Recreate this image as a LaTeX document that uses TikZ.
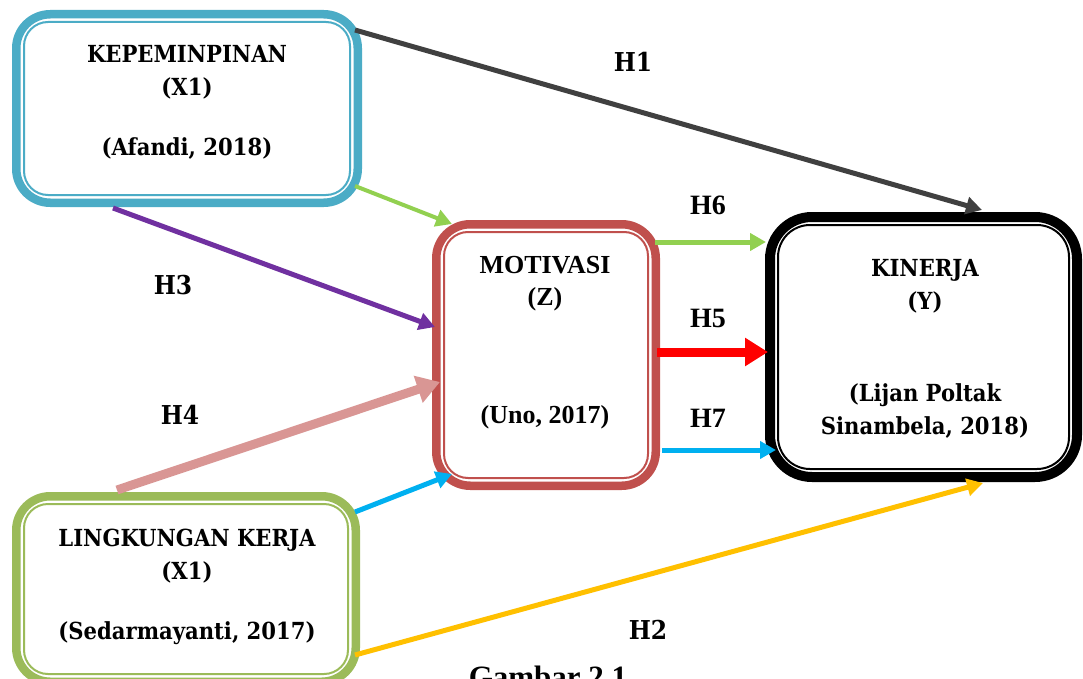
\documentclass[tikz,border=0pt]{standalone}
\usepackage{fontspec}
\setmainfont{Liberation Serif}
\newfontfamily\camb{DejaVu Serif Condensed}
\usetikzlibrary{arrows.meta,calc}

\definecolor{kblue}{HTML}{4BACC6}
\definecolor{mred}{HTML}{C0504D}
\definecolor{lgreen}{HTML}{9BBB59}
\definecolor{agray}{HTML}{404040}
\definecolor{agreen}{HTML}{92D050}
\definecolor{apurple}{HTML}{7030A0}
\definecolor{apink}{HTML}{D99694}
\definecolor{ablue}{HTML}{00B0F0}
\definecolor{ayellow}{HTML}{FFC000}
\definecolor{ared}{HTML}{FF0000}

\begin{document}
\begin{tikzpicture}[x=1pt,y=-1pt,
  varbox/.style={draw=#1, line width=8.5pt, rounded corners=34pt, inner sep=0pt, fill=white},
  innerline/.style={draw=#1, line width=2pt, rounded corners=24pt},
  camtext/.style={align=center, inner sep=0pt, font=\camb\bfseries\fontsize{23.5}{33}\selectfont},
  timtext/.style={align=center, inner sep=0pt, font=\bfseries\fontsize{26}{32}\selectfont},
  hcam/.style={inner sep=0pt, font=\camb\bfseries\fontsize{26}{30}\selectfont},
  htim/.style={inner sep=0pt, font=\bfseries\fontsize{28}{32}\selectfont},
  thinarrow/.style={draw=#1, line width=5pt, -{Triangle[length=16pt,width=17pt]}},
  thickarrow/.style={draw=#1, line width=9pt, -{Triangle[length=23pt,width=27pt]}}
]
\clip (0,0) rectangle (1083,679);
\fill[white] (0,0) rectangle (1083,679);

% variable boxes
\node[varbox=kblue, minimum width=341.5pt, minimum height=188.5pt] (K) at (187,108.5) {};
\node[varbox=mred, minimum width=219.5pt, minimum height=261.5pt] (M) at (546,355) {};
\node[varbox=black, line width=10pt, rounded corners=42pt, minimum width=307pt, minimum height=260pt] (Y) at (923.5,347) {};
\node[varbox=lgreen, minimum width=339.5pt, minimum height=185.5pt] (L) at (186,589) {};

% inner lines of the double borders
\draw[innerline=kblue] ([shift={(12,12)}]K.north west) rectangle ([shift={(-12,-12)}]K.south east);
\draw[innerline=mred] ([shift={(12,12)}]M.north west) rectangle ([shift={(-12,-12)}]M.south east);
\draw[innerline=black, rounded corners=32pt] ([shift={(13,13)}]Y.north west) rectangle ([shift={(-13,-13)}]Y.south east);
\draw[innerline=lgreen] ([shift={(12,12)}]L.north west) rectangle ([shift={(-12,-12)}]L.south east);

% box texts
\node[camtext] (Kt) at ([shift={(0,-6)}]K.center) {KEPEMINPINAN\\(X1)\\[27pt](Afandi, 2018)};
\node[timtext] (Mt) at ([shift={(-1,-12)}]M.center) {MOTIVASI\\(Z)\\[86pt](Uno, 2017)};
\node[camtext] (Yt) at ([shift={(1.5,2)}]Y.center) {KINERJA\\(Y)\\[59pt](Lijan Poltak\\Sinambela, 2018)};
\node[camtext] (Lt) at ([shift={(1,-2.5)}]L.center) {LINGKUNGAN KERJA\\(X1)\\[27pt](Sedarmayanti, 2017)};

% hypothesis paths
\draw[thinarrow=agray] ([shift={(-7,20)}]K.north east) -- ([shift={(58.5,-2)}]Y.north);
\draw[thinarrow=agreen, line width=4pt] ([shift={(-7,-21)}]K.south east) -- ([shift={(20,4)}]M.north west);
\draw[thinarrow=apurple] ([shift={(-74,1)}]K.south) -- ([shift={(3,-28)}]M.west);
\draw[thickarrow=apink] ([shift={(-69,-2)}]L.north) -- ([shift={(8,27)}]M.west);
\draw[thinarrow=ablue] ([shift={(-5,20)}]L.north east) -- ([shift={(20,-16)}]M.south west);
\draw[thinarrow=ayellow] ([shift={(-5,66)}]L.east) -- ([shift={(59.5,1)}]Y.south);
\draw[thinarrow=agreen] ([shift={(-5,-113)}]M.east) -- ([shift={(1,-105)}]Y.west);
\draw[thickarrow=ared] ([shift={(-3,-3)}]M.east) -- ([shift={(3,5)}]Y.west);
\draw[thinarrow=ablue] ([shift={(2,95)}]M.east) -- ([shift={(11,103)}]Y.west);

% hypothesis labels
\node[hcam] (h1) at (633,62) {H1};
\node[hcam] (h2) at (648,630) {H2};
\node[hcam] (h3) at (173,285) {H3};
\node[hcam] (h4) at (180,415) {H4};
\node[htim] (h5) at (708,318) {H5};
\node[htim] (h6) at (708,205) {H6};
\node[htim] (h7) at (708,418) {H7};

% figure caption, running off the lower edge
\node[inner sep=0pt, anchor=base, font=\bfseries\fontsize{31}{36}\selectfont] (cap) at (548,687) {Gambar 2.1};
\end{tikzpicture}
\end{document}
